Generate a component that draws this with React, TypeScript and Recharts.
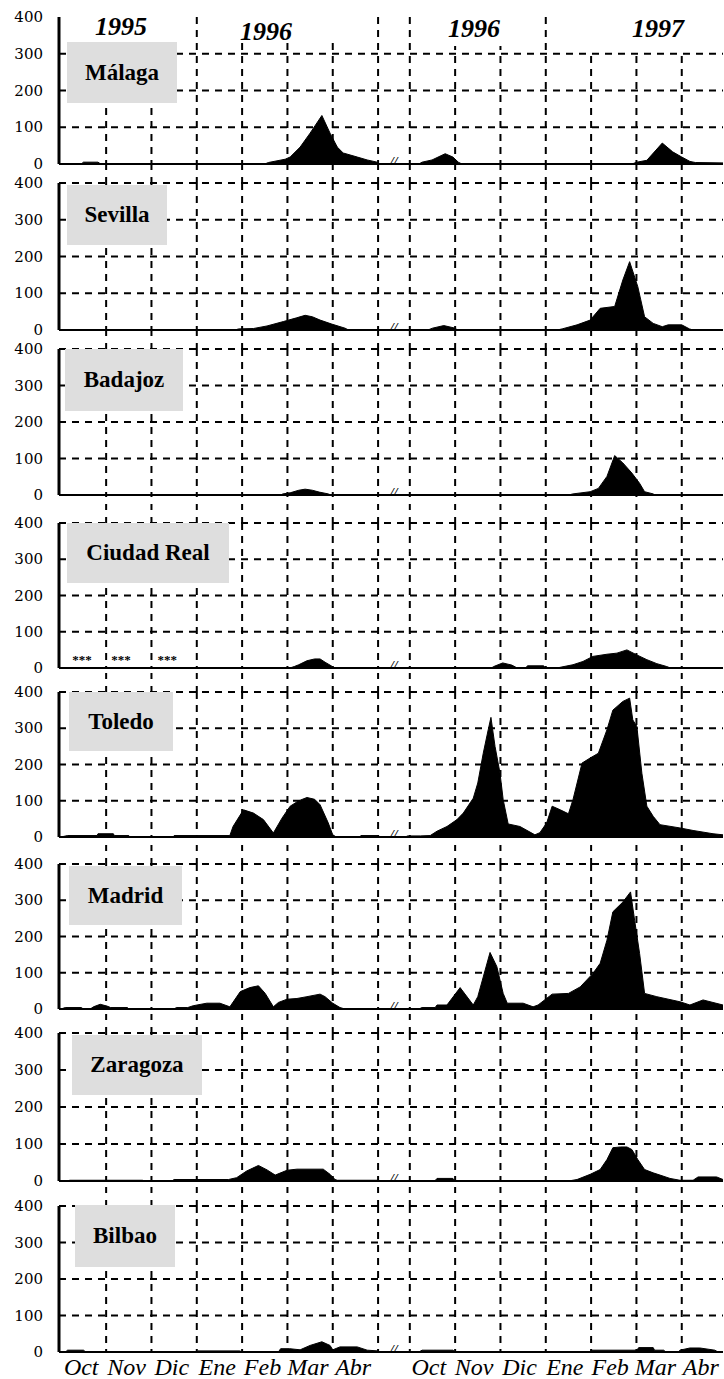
import React from 'react';
import { AreaChart, Area, XAxis, YAxis, CartesianGrid, ReferenceDot } from 'recharts';

// ---------- data ----------
const CITIES = ['Málaga', 'Sevilla', 'Badajoz', 'Ciudad Real', 'Toledo', 'Madrid', 'Zaragoza', 'Bilbao'];
const MONTHS = ['Oct', 'Nov', 'Dic', 'Ene', 'Feb', 'Mar', 'Abr', 'Oct', 'Nov', 'Dic', 'Ene', 'Feb', 'Mar', 'Abr'];
// month positions on a continuous month axis (season 1: 0-7, season 2: 7.7-14.7)
const MONTH_TICKS = [0.45, 1.45, 2.45, 3.45, 4.45, 5.45, 6.45, 8.12, 9.12, 10.12, 11.12, 12.12, 13.12, 14.12];
const MONTH_BOUNDS = [1, 2, 3, 4, 5, 6, 7, 7.7, 8.7, 9.7, 10.7, 11.7, 12.7, 13.7];
const Y_TICKS = [0, 100, 200, 300, 400];
const YEARS = ['1995', '1996', '1996', '1997'];
const X_DOMAIN: [number, number] = [-0.04, 14.61];
const BREAK_AT = 7.35;
const NO_DATA_AT = [0.47, 1.33, 2.35];

const malaga: [number, number][] = [
  [0, 0], [0.45, 0], [0.5, 5], [0.82, 5], [0.88, 0], [4.5, 0], [4.58, 4], [4.95, 13], [5.06, 19], [5.28, 46],
  [5.5, 84], [5.76, 132], [5.94, 84], [6.1, 46], [6.23, 30], [6.54, 19], [6.76, 11], [6.98, 5], [7.05, 0],
  [7.9, 0], [7.97, 5], [8.19, 11], [8.48, 28], [8.65, 19], [8.77, 5], [8.85, 0],
  [12.6, 0], [12.71, 5], [12.93, 10], [13.27, 57], [13.5, 33], [13.7, 19], [13.88, 7], [14.0, 4], [14.61, 3],
];
const sevilla: [number, number][] = [
  [0, 0], [3.85, 0], [3.92, 3], [4.25, 4], [4.55, 11], [4.91, 23], [5.2, 33], [5.39, 40], [5.55, 36], [5.72, 27],
  [5.98, 16], [6.27, 5], [6.35, 0],
  [8.1, 0], [8.2, 5], [8.45, 12], [8.7, 5], [8.75, 0], [10.95, 0], [11.06, 3], [11.39, 14], [11.68, 27], [11.9, 59],
  [12.22, 64], [12.4, 136], [12.55, 186], [12.73, 118], [12.88, 36], [13.07, 18], [13.27, 9], [13.4, 14], [13.7, 14],
  [13.87, 3], [13.95, 0], [14.61, 0],
];
const badajoz: [number, number][] = [
  [0, 0], [4.85, 0], [4.9, 3], [5.06, 6], [5.25, 13], [5.39, 16], [5.55, 13], [5.7, 8], [5.9, 3], [5.96, 0],
  [11.2, 0], [11.3, 3], [11.68, 9], [11.86, 18], [12.05, 51], [12.22, 108], [12.4, 88], [12.6, 60], [12.77, 32],
  [12.88, 9], [13.07, 3], [13.1, 0], [14.61, 0],
];
const ciudadReal: [number, number][] = [
  [0, 0], [5.05, 0], [5.15, 4], [5.25, 9], [5.43, 20], [5.6, 25], [5.72, 25], [5.83, 16], [5.98, 5], [6.05, 0],
  [9.5, 0], [9.55, 4], [9.75, 14], [9.95, 8], [10.07, 0], [10.25, 0], [10.3, 6], [10.65, 6], [10.7, 0], [10.95, 0],
  [11.02, 2], [11.3, 9], [11.52, 18], [11.74, 32], [12.05, 38], [12.27, 41], [12.49, 50], [12.71, 36], [12.93, 23],
  [13.15, 12], [13.37, 4], [13.45, 0], [14.61, 0],
];
const toledo: [number, number][] = [
  [0, 0], [0.15, 4], [0.8, 4], [0.82, 9], [1.16, 9], [1.18, 4], [1.5, 4], [1.52, 0], [2.48, 0], [2.5, 4], [3.73, 4],
  [3.8, 29], [4.03, 75], [4.25, 66], [4.47, 48], [4.69, 11], [4.88, 52], [5.06, 85], [5.25, 100], [5.43, 109],
  [5.6, 104], [5.72, 89], [5.9, 39], [6.0, 6], [6.08, 0], [6.6, 0], [6.62, 4], [7.0, 4], [7.05, 0],
  [7.6, 0], [7.65, 3], [7.93, 3], [8.15, 4], [8.3, 16], [8.52, 29], [8.74, 48], [8.88, 66], [9.1, 107], [9.2, 149],
  [9.32, 231], [9.43, 296], [9.49, 330], [9.58, 250], [9.69, 176], [9.76, 103], [9.87, 36], [10.13, 29], [10.46, 6],
  [10.57, 12], [10.72, 39], [10.84, 85], [11.02, 75], [11.2, 64], [11.3, 103], [11.5, 204], [11.68, 218],
  [11.86, 231], [12.05, 296], [12.18, 350], [12.4, 374], [12.55, 383], [12.62, 323], [12.71, 305], [12.82, 176],
  [12.93, 85], [13.07, 57], [13.22, 34], [13.66, 25], [13.95, 18], [14.39, 9], [14.61, 6],
];
const madrid: [number, number][] = [
  [0, 0], [0.1, 4], [0.45, 4], [0.5, 0], [0.65, 0], [0.72, 6], [0.87, 13], [1.02, 8], [1.1, 4], [1.47, 4], [1.5, 0],
  [2.5, 0], [2.55, 4], [2.8, 4], [2.92, 9], [3.22, 16], [3.51, 16], [3.73, 6], [3.96, 48], [4.17, 59], [4.36, 64],
  [4.51, 43], [4.69, 6], [4.8, 18], [4.99, 27], [5.21, 29], [5.43, 34], [5.72, 41], [5.83, 34], [6.0, 16],
  [6.16, 4], [6.27, 0],
  [7.9, 0], [7.97, 4], [8.26, 4], [8.3, 11], [8.52, 11], [8.81, 59], [9.1, 11], [9.2, 34], [9.47, 156], [9.62, 117],
  [9.76, 43], [9.85, 16], [10.2, 16], [10.42, 6], [10.53, 11], [10.84, 41], [11.2, 43], [11.46, 61], [11.74, 98],
  [11.9, 126], [12.05, 190], [12.18, 268], [12.4, 295], [12.57, 323], [12.66, 245], [12.77, 153], [12.88, 43],
  [13.15, 34], [13.66, 20], [13.88, 11], [14.17, 25], [14.39, 18], [14.61, 11],
];
const zaragoza: [number, number][] = [
  [0, 0], [0.13, 0], [0.2, 2], [1.8, 2], [1.85, 0], [2.45, 0], [2.5, 4], [3.7, 4], [3.88, 9], [4.1, 27], [4.36, 42],
  [4.55, 30], [4.73, 16], [4.99, 29], [5.21, 32], [5.79, 32], [5.94, 18], [6.05, 4], [6.1, 2], [6.98, 2], [7.05, 0],
  [7.9, 0], [8.25, 0], [8.3, 7], [8.65, 7], [8.7, 0], [11.2, 0], [11.39, 4], [11.68, 18], [11.9, 31], [12.05, 58],
  [12.18, 90], [12.35, 92], [12.49, 92], [12.6, 85], [12.73, 58], [12.88, 31], [13.07, 22], [13.22, 16], [13.44, 7],
  [13.66, 2], [13.95, 2], [14.06, 11], [14.47, 11], [14.61, 4],
];
const bilbao: [number, number][] = [
  [0, 0], [0.1, 0], [0.15, 5], [0.5, 5], [0.55, 0], [3.0, 0], [3.02, 3], [3.95, 3], [4.0, 0], [4.8, 0], [4.85, 9],
  [5.05, 9], [5.28, 6], [5.5, 18], [5.76, 28], [5.94, 18], [6.0, 6], [6.16, 14], [6.54, 14], [6.76, 5], [7.0, 3],
  [7.05, 0],
  [7.9, 0], [7.97, 5], [8.65, 5], [8.7, 0], [11.65, 0], [11.72, 5], [12.71, 5], [12.75, 12], [13.07, 12], [13.1, 5],
  [13.3, 5], [13.35, 0], [13.62, 0], [13.66, 5], [13.88, 11], [14.1, 11], [14.43, 5], [14.5, 0], [14.61, 0],
];
const SERIES = [malaga, sevilla, badajoz, ciudadReal, toledo, madrid, zaragoza, bilbao];

// ---------- layout ----------
const PANEL_TOP = [17, 183, 349, 523, 692, 864, 1033, 1206];
const PANEL_ZERO = [164, 330, 495, 668, 837, 1009, 1181, 1352];
const TITLE_BOX = [
  [67, 42, 110, 61], [67, 185, 100, 60], [65, 349, 118, 62], [67, 523, 162, 60],
  [69, 692, 104, 59], [69, 866, 113, 59], [72, 1035, 130, 60], [75, 1205, 100, 62],
];
const YEAR_TEXT = [[121, 14], [266, 19], [474, 16], [658, 16]];
const YEAR_MASK = [[80, 0, 85, 40], [205, 0, 140, 43], [418, 0, 112, 46], [560, 0, 140, 50]];

const SERIF = '"Liberation Serif", "Times New Roman", serif';
const TICK_FONT = '"DejaVu Serif", serif';
const GRID_DASH = '7 6';

const EmptyTick = () => <g />;

const YTick = (props: any) => (
  <text
    x={props.x}
    y={props.y}
    dy={5}
    textAnchor="end"
    fill="#000"
    style={{ fontFamily: TICK_FONT, fontSize: 15 }}
  >
    {props.payload.value}
  </text>
);

const MonthTick = (props: any) => (
  <text
    x={props.x}
    y={props.y}
    dy={19}
    textAnchor="middle"
    fill="#000"
    style={{ fontFamily: SERIF, fontStyle: 'italic', fontSize: 24 }}
  >
    {MONTHS[props.index]}
  </text>
);

function Panel({ i }: { i: number }) {
  const top = PANEL_TOP[i];
  const zero = PANEL_ZERO[i];
  const last = i === PANEL_TOP.length - 1;
  const gap = last ? 0 : PANEL_TOP[i + 1] - zero;
  const MT = 10;
  const bottomH = last ? 36 : gap;
  const height = MT + (zero - top) + bottomH;
  const data = SERIES[i].map(([x, v]) => ({ x, v }));
  return (
    <div style={{ position: 'absolute', left: 0, top: top - MT, fontFamily: SERIF }}>
      <AreaChart width={724} height={height} data={data} margin={{ top: MT, right: 1, bottom: 0, left: 0 }}>
        <CartesianGrid
          stroke="#000"
          strokeWidth={2}
          strokeDasharray={GRID_DASH}
          horizontalValues={i === 0 ? [100, 200, 300] : [100, 200, 300, 400]}
          verticalValues={MONTH_BOUNDS}
        />
        <XAxis
          dataKey="x"
          type="number"
          domain={X_DOMAIN}
          allowDataOverflow
          ticks={MONTH_BOUNDS}
          interval={0}
          tick={EmptyTick}
          height={last ? 2 : gap}
          tickSize={last ? 0 : gap}
          tickLine={last ? false : { stroke: '#000', strokeWidth: 2, strokeDasharray: '6 7' }}
          axisLine={{ stroke: '#000', strokeWidth: 2 }}
          stroke="#000"
        />
        {last && (
          <XAxis
            xAxisId="m"
            dataKey="x"
            type="number"
            domain={X_DOMAIN}
            allowDataOverflow
            ticks={MONTH_TICKS}
            interval={0}
            axisLine={false}
            tickLine={false}
            tickSize={0}
            tickMargin={2}
            height={34}
            tick={MonthTick}
          />
        )}
        <YAxis
          type="number"
          domain={[0, 400]}
          ticks={Y_TICKS}
          interval={0}
          width={59}
          axisLine={{ stroke: '#000', strokeWidth: 3 }}
          tickLine={false}
          tickSize={6}
          tickMargin={10}
          tick={YTick}
        />
        <Area
          type="linear"
          dataKey="v"
          stroke="#000"
          strokeWidth={1}
          fill="#000"
          fillOpacity={1}
          isAnimationActive={false}
          dot={false}
          activeDot={false}
        />
        <ReferenceDot
          x={BREAK_AT}
          y={10}
          r={0}
          fill="none"
          stroke="none"
          label={{ value: '//', position: 'center', fontSize: 13, fontStyle: 'italic', fontWeight: 'bold', fill: '#000' }}
        />
        {i === 3 &&
          NO_DATA_AT.map((x, k) => (
            <ReferenceDot
              key={k}
              x={x}
              y={25}
              r={0}
              fill="none"
              stroke="none"
              label={{ value: '***', position: 'center', fontSize: 13, fontWeight: 'bold', fill: '#000' }}
            />
          ))}
      </AreaChart>
    </div>
  );
}

export default function App() {
  return (
    <div style={{ position: 'absolute', left: 0, top: 0, width: 724, height: 1379, background: '#fff', overflow: 'hidden' }}>
      {CITIES.map((_, i) => (
        <Panel key={i} i={i} />
      ))}
      {YEAR_MASK.map(([l, t, w, h], k) => (
        <div key={'m' + k} style={{ position: 'absolute', left: l, top: t, width: w, height: h, background: '#fff' }} />
      ))}
      {YEARS.map((y, k) => (
        <div
          key={'y' + k}
          style={{
            position: 'absolute',
            left: YEAR_TEXT[k][0] - 50,
            top: YEAR_TEXT[k][1],
            width: 100,
            textAlign: 'center',
            fontFamily: SERIF,
            fontWeight: 'bold',
            fontStyle: 'italic',
            fontSize: 26,
            lineHeight: '26px',
            color: '#000',
          }}
        >
          {y}
        </div>
      ))}
      {CITIES.map((c, k) => {
        const [l, t, w, h] = TITLE_BOX[k];
        return (
          <div
            key={'t' + k}
            style={{
              position: 'absolute',
              left: l,
              top: t,
              width: w,
              height: h,
              background: '#dedede',
              display: 'flex',
              alignItems: 'center',
              justifyContent: 'center',
              fontFamily: SERIF,
              fontWeight: 'bold',
              fontSize: 23,
              color: '#000',
              whiteSpace: 'nowrap',
            }}
          >
            {c}
          </div>
        );
      })}
    </div>
  );
}
